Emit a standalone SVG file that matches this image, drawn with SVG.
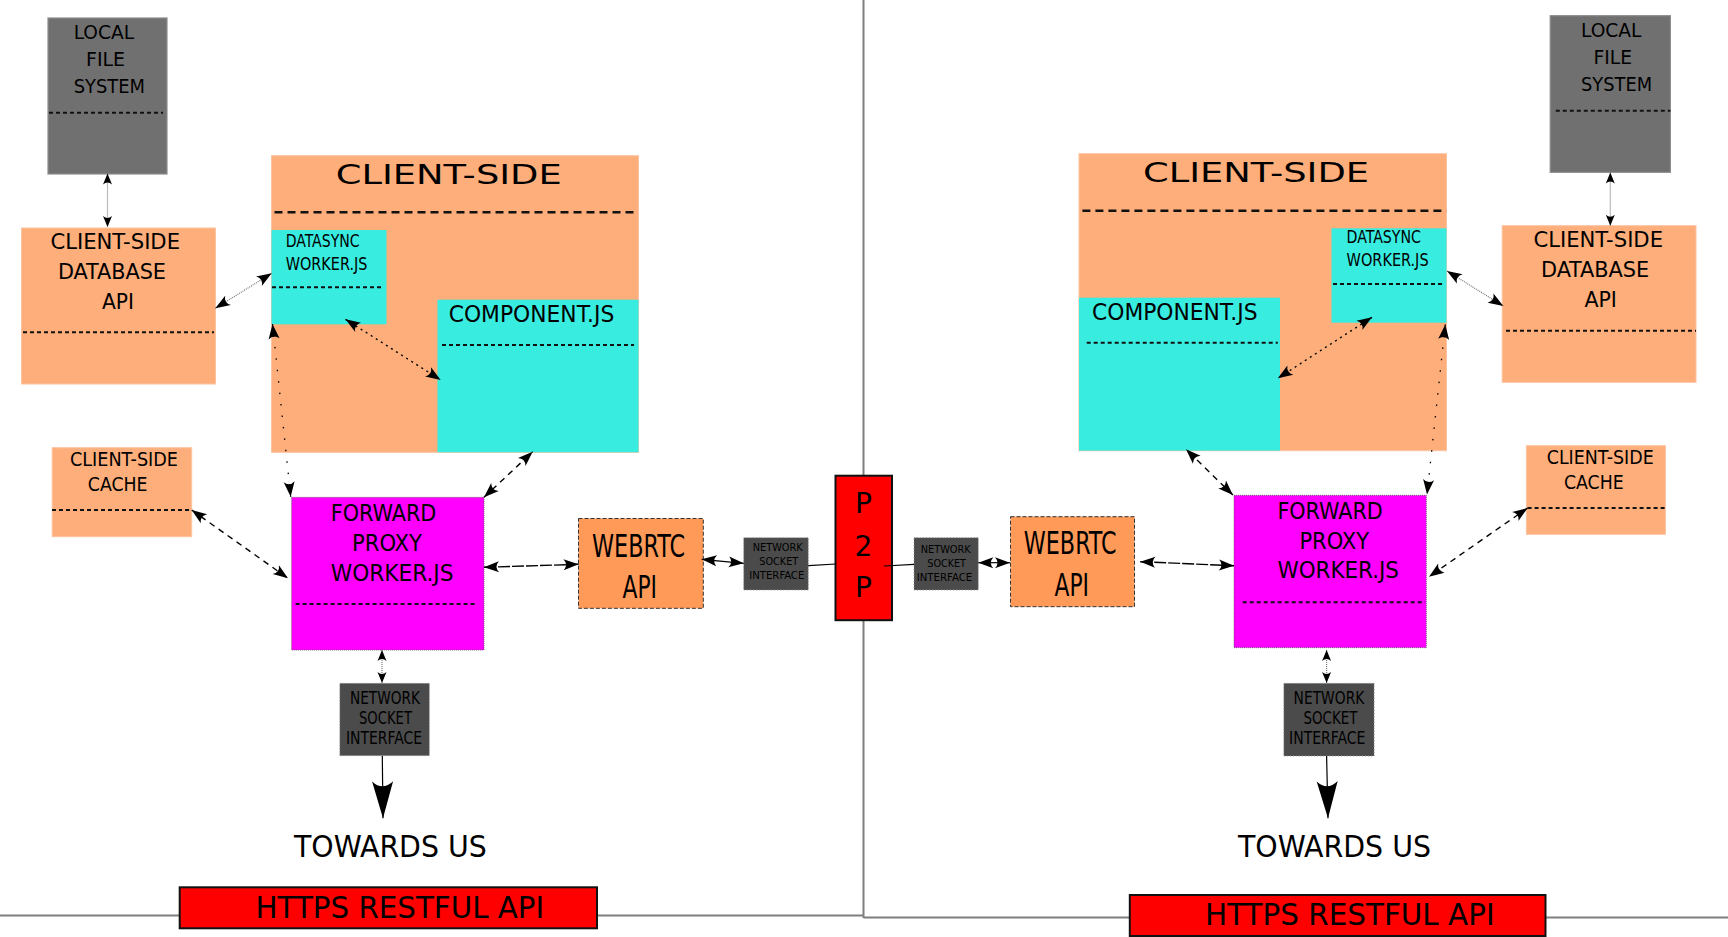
<svg xmlns="http://www.w3.org/2000/svg" width="1728" height="937" viewBox="0 0 1728 937">
<style>
.t{font-family:"DejaVu Sans Condensed","DejaVu Sans",sans-serif;fill:#000}
.w{font-family:"DejaVu Sans",sans-serif;fill:#000}
.peach{fill:#fdae7a;stroke:#fcc3a0;stroke-width:1}
.cyan{fill:#39ece0}
.lfs{fill:#707070;stroke:#8c8c8c;stroke-width:1.2}
.fp{fill:#ff00ff;stroke:#555;stroke-width:0.8;stroke-dasharray:1,1}
.web{fill:#ff9a58;stroke:#333;stroke-width:1;stroke-dasharray:4,2}
.nsi{fill:#4b4b4b;stroke:#999;stroke-width:1;stroke-dasharray:1,2}
.red{fill:#ff0000;stroke:#111;stroke-width:2}
.sep{stroke:#111;stroke-width:2;stroke-dasharray:4,3;fill:none}
.sepb{stroke:#111;stroke-width:2.6;stroke-dasharray:8,5;fill:none}
.div{stroke:#7f7f7f;stroke-width:2;fill:none}
.c{fill:none;stroke:#000;stroke-width:1.2}
.dotg{stroke:#777;stroke-dasharray:1,1}
.dot{stroke-dasharray:2,4;stroke-width:1.4}
.sparse{stroke-dasharray:1.5,10;stroke-width:1.3}
.dash{stroke-dasharray:6,5;stroke-width:1.4}
.long{stroke-dasharray:12,2;stroke-width:1.4}
.a{marker-start:url(#ah);marker-end:url(#ah)}
.as{marker-start:url(#ahs);marker-end:url(#ahs)}
</style>
<defs>
<marker id="ah" markerUnits="userSpaceOnUse" markerWidth="40" markerHeight="40" refX="0" refY="0" orient="auto-start-reverse" overflow="visible" viewBox="-20 -20 40 40">
<path d="M0,0 L-15,-5.5 Q-10,0 -15,5.5 Z" fill="#000"/>
</marker>
<marker id="ahs" markerUnits="userSpaceOnUse" markerWidth="40" markerHeight="40" refX="0" refY="0" orient="auto-start-reverse" overflow="visible" viewBox="-20 -20 40 40">
<path d="M0,0 L-11,-4.5 Q-7,0 -11,4.5 Z" fill="#000"/>
</marker>
<marker id="ahb" markerUnits="userSpaceOnUse" markerWidth="60" markerHeight="60" refX="0" refY="0" orient="auto" overflow="visible" viewBox="-50 -30 60 60">
<path d="M0,0 L-37,-10.5 Q-27,0 -37,10.5 Z" fill="#000"/>
</marker>
</defs>
<rect width="1728" height="937" fill="#fff"/>

<g id="dividers">
<line class="div" x1="863.5" y1="0" x2="863.5" y2="918"/>
<line class="div" x1="0" y1="915.5" x2="863.5" y2="915.5"/>
<line class="div" x1="863.5" y1="917.5" x2="1728" y2="917.5"/>
</g>

<!-- LEFT SIDE -->
<g id="lfs-left">
<rect class="lfs" x="48" y="18" width="119" height="156"/>
<line class="sep" x1="49" y1="112.7" x2="163" y2="112.7"/>
<text class="t" font-size="20" x="73.7" y="39.3" textLength="60.3" lengthAdjust="spacingAndGlyphs">LOCAL</text>
<text class="t" font-size="20" x="86" y="66" textLength="39" lengthAdjust="spacingAndGlyphs">FILE</text>
<text class="t" font-size="20" x="73.7" y="92.7" textLength="71.3" lengthAdjust="spacingAndGlyphs">SYSTEM</text>
</g>
<g id="db-left">
<rect class="peach" x="21.5" y="228" width="194" height="156"/>
<line class="sep" x1="23" y1="332.3" x2="214" y2="332.3"/>
<text class="t" font-size="22" x="50.4" y="249.3" textLength="129.6" lengthAdjust="spacingAndGlyphs">CLIENT-SIDE</text>
<text class="t" font-size="22" x="58" y="279.3" textLength="108" lengthAdjust="spacingAndGlyphs">DATABASE</text>
<text class="t" font-size="22" x="102" y="309.3" textLength="32" lengthAdjust="spacingAndGlyphs">API</text>
</g>
<g id="clientside-left">
<rect class="peach" x="271.5" y="155.7" width="367" height="296.6" stroke="none"/>
<text class="w" font-size="27" x="335.7" y="184" textLength="226" lengthAdjust="spacingAndGlyphs">CLIENT-SIDE</text>
<line class="sepb" x1="274.5" y1="212.3" x2="638.4" y2="212.3"/>
</g>
<g id="datasync-left">
<rect class="cyan" x="271.5" y="230" width="115" height="94.3"/>
<line class="sep" x1="272" y1="287.3" x2="382" y2="287.3" stroke-width="1.6" stroke-dasharray="3,2"/>
<text class="t" font-size="18" x="285.7" y="246.7" textLength="74" lengthAdjust="spacingAndGlyphs">DATASYNC</text>
<text class="t" font-size="18" x="285.7" y="270" textLength="81.7" lengthAdjust="spacingAndGlyphs">WORKER.JS</text>
</g>
<g id="component-left">
<rect class="cyan" x="437.5" y="299.7" width="201" height="152.6"/>
<line class="sep" x1="442" y1="345" x2="634" y2="345" stroke-dasharray="5,3"/>
<text class="t" font-size="23" x="448.7" y="321.7" textLength="165.6" lengthAdjust="spacingAndGlyphs">COMPONENT.JS</text>
</g>
<g id="cache-left">
<rect class="peach" x="52.2" y="447.7" width="139.5" height="89"/>
<line class="sep" x1="52" y1="510" x2="192" y2="510" stroke-dasharray="3,2"/>
<text class="t" font-size="20" x="70" y="466" textLength="108" lengthAdjust="spacingAndGlyphs">CLIENT-SIDE</text>
<text class="t" font-size="20" x="87.8" y="491" textLength="59.7" lengthAdjust="spacingAndGlyphs">CACHE</text>
</g>
<g id="proxy-left">
<rect class="fp" x="291.6" y="497.3" width="192.4" height="152.7"/>
<line class="sep" x1="295.6" y1="604" x2="477.6" y2="604"/>
<text class="t" font-size="23" x="330.7" y="520.7" textLength="105.6" lengthAdjust="spacingAndGlyphs">FORWARD</text>
<text class="t" font-size="23" x="352" y="550.7" textLength="70" lengthAdjust="spacingAndGlyphs">PROXY</text>
<text class="t" font-size="23" x="330.7" y="580.7" textLength="122.8" lengthAdjust="spacingAndGlyphs">WORKER.JS</text>
</g>
<g id="webrtc-left">
<rect class="web" x="578.5" y="518.5" width="124.8" height="89.8"/>
<text class="t" font-size="32" x="592" y="556.5" textLength="93" lengthAdjust="spacingAndGlyphs">WEBRTC</text>
<text class="t" font-size="32" x="622.5" y="597.5" textLength="34.5" lengthAdjust="spacingAndGlyphs">API</text>
</g>
<g id="nsi-small-left">
<rect class="nsi" x="743.7" y="537.7" width="64.6" height="52.3"/>
<text class="t" font-size="10" x="752.7" y="550.7" textLength="50" lengthAdjust="spacingAndGlyphs">NETWORK</text>
<text class="t" font-size="10" x="759.3" y="565" textLength="39" lengthAdjust="spacingAndGlyphs">SOCKET</text>
<text class="t" font-size="10" x="749.3" y="579.3" textLength="55" lengthAdjust="spacingAndGlyphs">INTERFACE</text>
</g>
<g id="nsi-left">
<rect class="nsi" x="339.8" y="683.3" width="89.6" height="72.4"/>
<text class="t" font-size="17" x="350" y="704.2" textLength="70" lengthAdjust="spacingAndGlyphs">NETWORK</text>
<text class="t" font-size="17" x="359" y="724" textLength="53" lengthAdjust="spacingAndGlyphs">SOCKET</text>
<text class="t" font-size="17" x="346" y="744" textLength="76" lengthAdjust="spacingAndGlyphs">INTERFACE</text>
</g>
<g id="towards-left">
<text class="t" font-size="30" x="294" y="857.3" textLength="192.8" lengthAdjust="spacingAndGlyphs">TOWARDS US</text>
</g>
<g id="https-left">
<rect class="red" x="179.7" y="887.3" width="417.3" height="41"/>
<text class="t" font-size="31" x="255.5" y="917.7" textLength="288.7" lengthAdjust="spacingAndGlyphs">HTTPS RESTFUL API</text>
</g>

<!-- P2P -->
<g id="p2p">
<rect class="red" x="835.5" y="475.7" width="56.5" height="144.5"/>
<text class="w" font-size="28" x="863.5" y="513.3" text-anchor="middle">P</text>
<text class="w" font-size="28" x="863.5" y="555.5" text-anchor="middle">2</text>
<text class="w" font-size="28" x="863.5" y="597.3" text-anchor="middle">P</text>
</g>

<!-- RIGHT SIDE -->
<g id="lfs-right">
<rect class="lfs" x="1550.2" y="15.7" width="120.2" height="156.6"/>
<line class="sep" x1="1555.8" y1="110.7" x2="1670.4" y2="110.7"/>
<text class="t" font-size="20" x="1581" y="37.3" textLength="60.4" lengthAdjust="spacingAndGlyphs">LOCAL</text>
<text class="t" font-size="20" x="1593.5" y="64" textLength="38.5" lengthAdjust="spacingAndGlyphs">FILE</text>
<text class="t" font-size="20" x="1581" y="90.7" textLength="71" lengthAdjust="spacingAndGlyphs">SYSTEM</text>
</g>
<g id="db-right">
<rect class="peach" x="1502.2" y="225.7" width="193.8" height="156.6"/>
<line class="sep" x1="1506" y1="330.7" x2="1696" y2="330.7"/>
<text class="t" font-size="22" x="1533.4" y="247.3" textLength="129.6" lengthAdjust="spacingAndGlyphs">CLIENT-SIDE</text>
<text class="t" font-size="22" x="1541" y="277.3" textLength="108.2" lengthAdjust="spacingAndGlyphs">DATABASE</text>
<text class="t" font-size="22" x="1584.4" y="307.3" textLength="32.4" lengthAdjust="spacingAndGlyphs">API</text>
</g>
<g id="clientside-right">
<rect class="peach" x="1079" y="153.7" width="367.5" height="297" stroke="none"/>
<text class="w" font-size="27" x="1143" y="181.7" textLength="226" lengthAdjust="spacingAndGlyphs">CLIENT-SIDE</text>
<line class="sepb" x1="1082.4" y1="210.7" x2="1446.5" y2="210.7"/>
</g>
<g id="datasync-right">
<rect class="cyan" x="1331.5" y="228.3" width="115" height="94.4"/>
<line class="sep" x1="1333" y1="284" x2="1443.4" y2="284" stroke-width="1.6" stroke-dasharray="3,2"/>
<text class="t" font-size="18" x="1346.6" y="242.7" textLength="74.4" lengthAdjust="spacingAndGlyphs">DATASYNC</text>
<text class="t" font-size="18" x="1346.6" y="266" textLength="82" lengthAdjust="spacingAndGlyphs">WORKER.JS</text>
</g>
<g id="component-right">
<rect class="cyan" x="1079" y="297.7" width="201" height="153"/>
<line class="sep" x1="1086.7" y1="342.7" x2="1277.8" y2="342.7" stroke-dasharray="5,3"/>
<text class="t" font-size="23" x="1092" y="320" textLength="165.5" lengthAdjust="spacingAndGlyphs">COMPONENT.JS</text>
</g>
<g id="cache-right">
<rect class="peach" x="1526.4" y="445.7" width="139" height="88.6"/>
<line class="sep" x1="1527.6" y1="508" x2="1665.4" y2="508" stroke-dasharray="3,2"/>
<text class="t" font-size="20" x="1546.7" y="464" textLength="107" lengthAdjust="spacingAndGlyphs">CLIENT-SIDE</text>
<text class="t" font-size="20" x="1564" y="489.3" textLength="59.7" lengthAdjust="spacingAndGlyphs">CACHE</text>
</g>
<g id="proxy-right">
<rect class="fp" x="1234" y="495.3" width="192.3" height="152.4"/>
<line class="sep" x1="1242.7" y1="602.3" x2="1425" y2="602.3"/>
<text class="t" font-size="23" x="1277.4" y="519" textLength="105.4" lengthAdjust="spacingAndGlyphs">FORWARD</text>
<text class="t" font-size="23" x="1299.4" y="549" textLength="69.6" lengthAdjust="spacingAndGlyphs">PROXY</text>
<text class="t" font-size="23" x="1277.4" y="578.3" textLength="121.6" lengthAdjust="spacingAndGlyphs">WORKER.JS</text>
</g>
<g id="webrtc-right">
<rect class="web" x="1010.5" y="516.7" width="124" height="90"/>
<text class="t" font-size="32" x="1023.8" y="554" textLength="92.7" lengthAdjust="spacingAndGlyphs">WEBRTC</text>
<text class="t" font-size="32" x="1054.5" y="595.7" textLength="34.5" lengthAdjust="spacingAndGlyphs">API</text>
</g>
<g id="nsi-small-right">
<rect class="nsi" x="914" y="537.7" width="64.3" height="52.3"/>
<text class="t" font-size="10" x="920.7" y="552.7" textLength="50" lengthAdjust="spacingAndGlyphs">NETWORK</text>
<text class="t" font-size="10" x="927.3" y="566.7" textLength="38.7" lengthAdjust="spacingAndGlyphs">SOCKET</text>
<text class="t" font-size="10" x="916.7" y="581" textLength="55.6" lengthAdjust="spacingAndGlyphs">INTERFACE</text>
</g>
<g id="nsi-right">
<rect class="nsi" x="1283.8" y="683.3" width="90.3" height="72.7"/>
<text class="t" font-size="17" x="1293.6" y="704" textLength="70.7" lengthAdjust="spacingAndGlyphs">NETWORK</text>
<text class="t" font-size="17" x="1303.5" y="724" textLength="53.9" lengthAdjust="spacingAndGlyphs">SOCKET</text>
<text class="t" font-size="17" x="1289" y="744" textLength="76.5" lengthAdjust="spacingAndGlyphs">INTERFACE</text>
</g>
<g id="towards-right">
<text class="t" font-size="30" x="1238" y="857.3" textLength="193" lengthAdjust="spacingAndGlyphs">TOWARDS US</text>
</g>
<g id="https-right">
<rect class="red" x="1129.8" y="895" width="415.7" height="41"/>
<text class="t" font-size="31" x="1205" y="925" textLength="289.6" lengthAdjust="spacingAndGlyphs">HTTPS RESTFUL API</text>
</g>

<g id="connectors">
<line class="c dotg as" x1="107.5" y1="173.5" x2="107.5" y2="227"/>
<line class="c dotg a" x1="215.3" y1="308.3" x2="271.7" y2="273.3"/>
<line class="c dot a" x1="345.5" y1="319.3" x2="440.7" y2="380"/>
<line class="c sparse a" x1="272.5" y1="324" x2="290.7" y2="496.7"/>
<line class="c dash a" x1="484" y1="497.3" x2="532.7" y2="451.7"/>
<line class="c dash a" x1="191.7" y1="510" x2="288" y2="578.3"/>
<line class="c long a" x1="484" y1="567.3" x2="578.6" y2="564.3"/>
<line class="c a" x1="701.7" y1="559.3" x2="743.7" y2="563.3"/>
<line class="c" stroke="#333" x1="808.3" y1="565.6" x2="836" y2="564"/>
<line class="c" stroke="#333" x1="884" y1="566" x2="914" y2="564.3"/>
<line class="c a" x1="978.3" y1="562.7" x2="1010" y2="562.7"/>
<line class="c long a" x1="1140.2" y1="561.7" x2="1234" y2="565.7"/>
<line class="c dash a" x1="1232.9" y1="495" x2="1186" y2="449.3"/>
<line class="c sparse a" x1="1445.3" y1="324.5" x2="1427" y2="494.5"/>
<line class="c dash a" x1="1527.6" y1="508" x2="1429" y2="576.7"/>
<line class="c dot a" x1="1372" y1="317.3" x2="1277.8" y2="378.3"/>
<line class="c dotg a" x1="1447" y1="271" x2="1503.3" y2="306"/>
<line class="c dotg as" x1="1610.3" y1="172.5" x2="1610.3" y2="225.7"/>
<line class="c dotg as" x1="382" y1="650" x2="382" y2="683"/>
<line class="c dotg as" x1="1326.6" y1="650" x2="1326.6" y2="683"/>
<line class="c" stroke-width="2" x1="382.3" y1="756" x2="383" y2="818.3" marker-end="url(#ahb)"/>
<line class="c" stroke-width="2" x1="1326.6" y1="756" x2="1328" y2="818.3" marker-end="url(#ahb)"/>
</g>
</svg>
